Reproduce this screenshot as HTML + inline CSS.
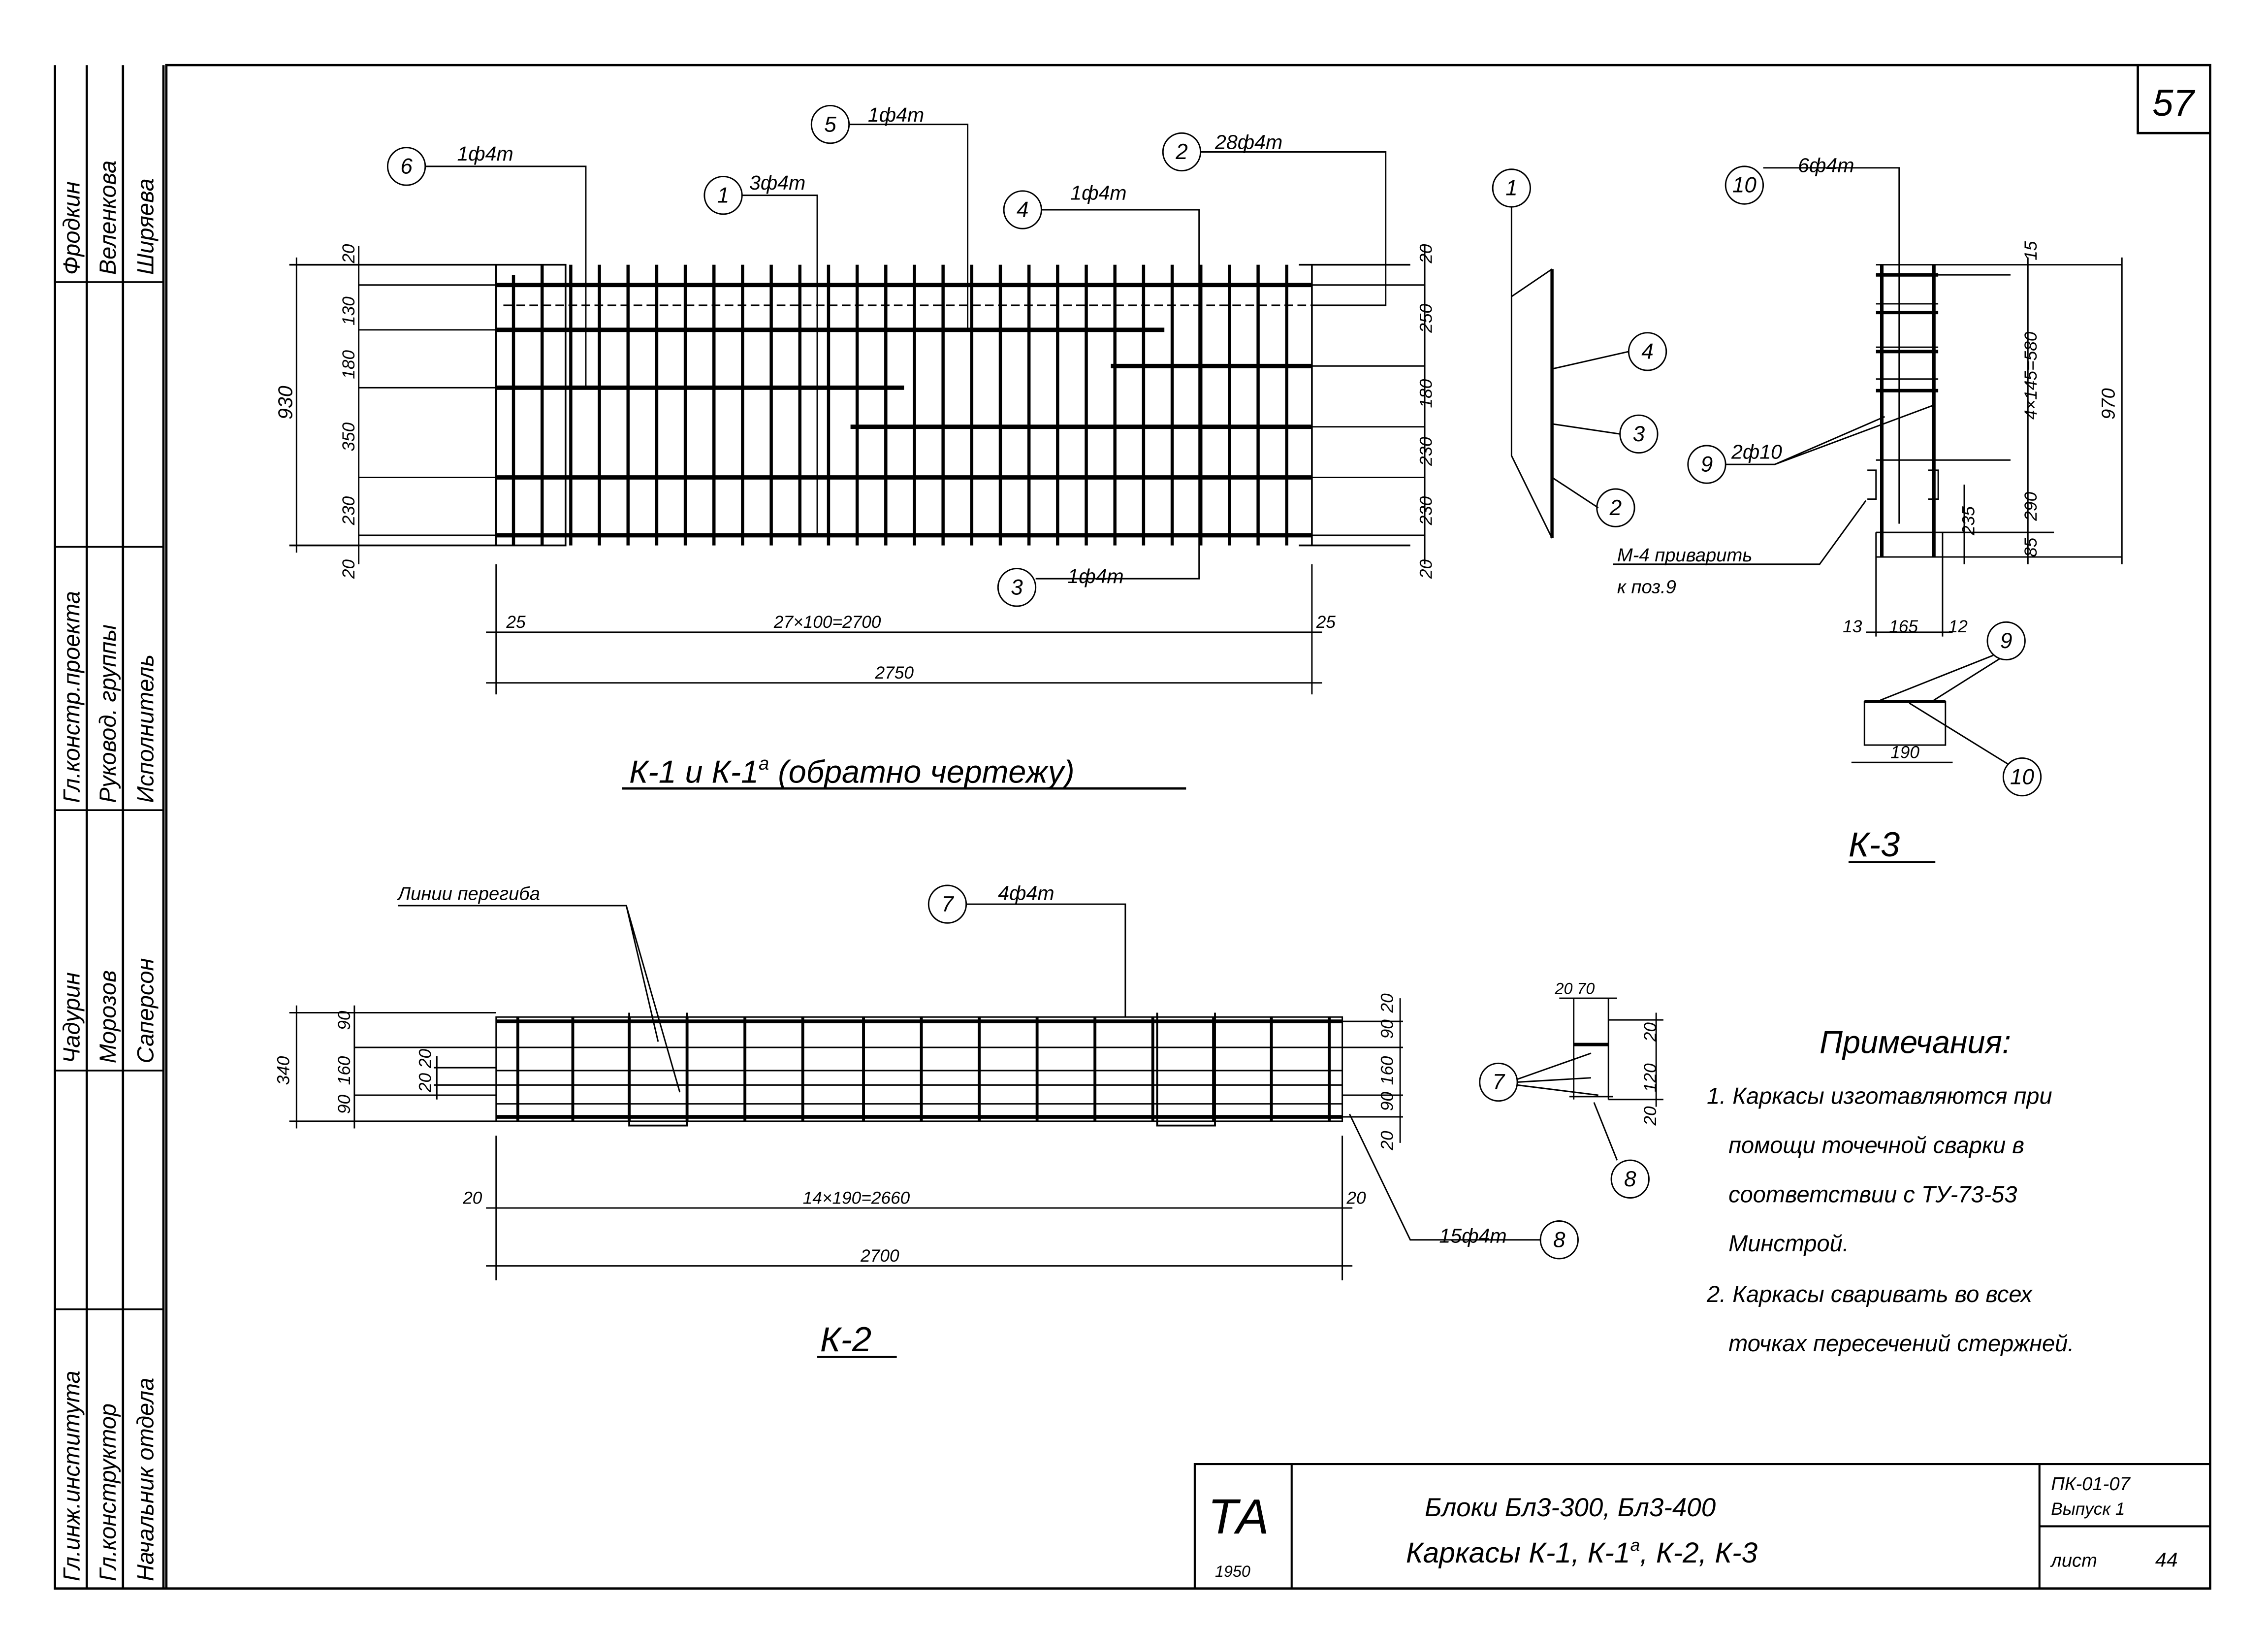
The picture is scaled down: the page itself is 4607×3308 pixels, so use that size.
<!DOCTYPE html>
<html><head><meta charset="utf-8"><style>
html,body{margin:0;padding:0;background:#fff}
svg{display:block}
text{font-family:"Liberation Sans",sans-serif;font-style:italic;fill:#000}
</style></head><body>
<svg width="4607" height="3308" viewBox="0 0 1568 1126" preserveAspectRatio="none" xmlns="http://www.w3.org/2000/svg">
<g fill="none" stroke="#000" stroke-width="1">
<!-- frame -->
<path d="M38 45V1098H1528V45H115V1098M60 45V1098M85 45V1098M113 45V1098" stroke-width="1.6"/>
<path d="M38 195H113M38 378H113M38 560H113M38 740H113M38 905H113" stroke-width="1.2"/>
<path d="M1478 45V92H1528" stroke-width="1.6"/>
<path d="M826 1098V1012H1528M893 1012V1098M1410 1012V1098M1410 1055H1528" stroke-width="1.4"/>

<!-- K-1 grid -->
<path d="M343 183H391V377H343V183M898 183H907V377H898M907 183H975M907 377H975M200 183H343M200 377H343" stroke-width="1.2"/>
<path d="M355 190V377M374.8 183V377M394.6 183V377M414.4 183V377M434.2 183V377M454 183V377M473.8 183V377M493.6 183V377M513.4 183V377M533.2 183V377M553 183V377M572.8 183V377M592.6 183V377M612.4 183V377M632.2 183V377M652 183V377M671.8 183V377M691.6 183V377M711.4 183V377M731.2 183V377M751 183V377M770.8 183V377M790.6 183V377M810.4 183V377M830.2 183V377M850 183V377M869.8 183V377M889.6 183V377" stroke-width="2.2"/>
<path d="M343 197H907M343 228H805M343 268H625M768 253H907M588 295H907M343 330H907M343 370H907" stroke-width="3"/>
<path d="M348 211H907" stroke-width="1" stroke-dasharray="6 3"/>
<path d="M248 197H343M248 228H343M248 268H343M248 330H343M248 370H343M907 197H985M907 253H985M907 295H985M907 330H985M907 370H985"/>
<path d="M205 178V382M248 170V390M985 170V390M343 390V480M907 390V480M336 437H914M336 472H914"/>
<!-- leaders K-1 -->
<path d="M294 115H405V268M513 135H565V370M587 86H669V228M720 145H829V400H716M830 105H958V211H907"/>
<circle cx="281" cy="115" r="13"/><circle cx="500" cy="135" r="13"/><circle cx="574" cy="86" r="13"/>
<circle cx="707" cy="145" r="13"/><circle cx="817" cy="105" r="13"/><circle cx="703" cy="406" r="13"/>
<path d="M430 545H820" stroke-width="1.6"/>

<!-- side view -->
<circle cx="1045" cy="130" r="13"/><circle cx="1139" cy="243" r="13"/><circle cx="1133" cy="300" r="13"/><circle cx="1117" cy="351" r="13"/>
<path d="M1045 143V205L1073 186M1045 205V315L1073 372M1126 243L1073 255M1120 300L1073 293M1105 351L1073 330"/>
<path d="M1073 186V372" stroke-width="2.2"/>

<!-- K-3 -->
<circle cx="1206" cy="128" r="13"/>
<path d="M1219 116H1313V362"/>
<path d="M1301 183V385M1337 183V385" stroke-width="2.4"/>
<path d="M1297 183H1467M1297 190H1390M1297 210H1340M1297 240H1340M1297 262H1340M1297 318H1390M1297 368H1420M1297 385H1467M1291 325H1297V345H1291M1333 325H1340V345H1333M1297 368V440M1343 368V440M1358 335V390M1402 178V390M1467 178V390M1290 437H1350"/>
<path d="M1297 190H1340M1297 216H1340M1297 243H1340M1297 270H1340" stroke-width="2.4"/>
<circle cx="1180" cy="321" r="13"/>
<path d="M1193 321H1227L1337 280M1227 321L1303 288M1115 390H1258L1290 346M1115 403"/>
<rect x="1289" y="485" width="56" height="30"/>
<path d="M1289 485H1345" stroke-width="2"/>
<path d="M1280 527H1350"/>
<circle cx="1387" cy="443" r="13"/><circle cx="1398" cy="537" r="13"/>
<path d="M1378 453L1300 484M1383 455L1337 484M1388 528L1320 486"/>
<path d="M1278 596H1338" stroke-width="1.4"/>

<!-- K-2 -->
<path d="M343 703H928V775H343ZM343 705V775M928 703V775M200 700H343M200 775H343M245 724H343M245 757H343M300 738H343M300 750H343M928 706H970M928 724H970M928 757H970M928 772H970M205 695V780M245 695V780M302 730V760M968 690V790" />
<path d="M358 703V775M396 703V775M435 703V775M475 703V775M515 703V775M555 703V775M597 703V775M637 703V775M677 703V775M717 703V775M757 703V775M797 703V775M839 703V775M879 703V775M919 703V775" stroke-width="2"/>
<path d="M343 706H928M343 772H928" stroke-width="2.6"/>
<path d="M343 724H928M343 740H928M343 750H928M343 763H928" stroke-width="1"/>
<path d="M435 700V778H475V700M800 700V778H840V700" stroke-width="1.3"/>
<path d="M343 785V885M928 785V885M336 835H935M336 875H935"/>
<path d="M275 626H433L455 720M433 626L470 755"/>
<circle cx="655" cy="625" r="13"/><path d="M668 625H778V703"/>
<circle cx="1078" cy="857" r="13"/><path d="M1065 857H975L933 770"/>
<path d="M565 938H620" stroke-width="1.4"/>
<!-- K-2 section -->
<path d="M1088 690V722H1112V690M1078 690H1118M1088 722V760M1112 722V760M1112 705H1150M1112 760H1150M1145 700V765M1085 758H1115" />
<path d="M1088 722H1112" stroke-width="2.4"/>
<circle cx="1036" cy="748" r="13"/><circle cx="1127" cy="815" r="13"/>
<path d="M1049 746L1100 728M1049 748L1100 745M1049 750L1105 757M1118 802L1102 762"/>
</g>

<g font-size="12">
<g transform="rotate(-90)" font-size="16">
<text x="-190" y="55">Фродкин</text>
<text x="-190" y="80">Веленкова</text>
<text x="-190" y="106">Ширяева</text>
<text x="-555" y="55">Гл.констр.проекта</text>
<text x="-555" y="80">Руковод. группы</text>
<text x="-555" y="106">Исполнитель</text>
<text x="-735" y="55">Чадурин</text>
<text x="-735" y="80">Морозов</text>
<text x="-735" y="106">Саперсон</text>
<text x="-1093" y="55">Гл.инж.института</text>
<text x="-1093" y="80">Гл.конструктор</text>
<text x="-1093" y="106">Начальник отдела</text>
</g>
<text x="1488" y="80" font-size="26">57</text>

<text x="316" y="111" font-size="14">1ф4т</text>
<text x="518" y="131" font-size="14">3ф4т</text>
<text x="600" y="84" font-size="14">1ф4т</text>
<text x="740" y="138" font-size="14">1ф4т</text>
<text x="840" y="103" font-size="14">28ф4т</text>
<text x="738" y="403" font-size="14">1ф4т</text>
<g font-size="15" text-anchor="middle">
<text x="281" y="120">6</text><text x="500" y="140">1</text><text x="574" y="91">5</text>
<text x="707" y="150">4</text><text x="817" y="110">2</text><text x="703" y="411">3</text>
<text x="1045" y="135">1</text><text x="1139" y="248">4</text><text x="1133" y="305">3</text><text x="1117" y="356">2</text>
<text x="1206" y="133">10</text><text x="1180" y="326">9</text><text x="1387" y="448">9</text><text x="1398" y="542">10</text>
<text x="655" y="630">7</text><text x="1078" y="862">8</text><text x="1036" y="753">7</text><text x="1127" y="820">8</text>
</g>
<g transform="rotate(-90)" font-size="12">
<text x="-182" y="245" >20</text><text x="-225" y="245">130</text><text x="-262" y="245">180</text>
<text x="-312" y="245">350</text><text x="-363" y="245">230</text><text x="-400" y="245">20</text>
<text x="-290" y="202" font-size="14">930</text>
<text x="-182" y="990">20</text><text x="-230" y="990">250</text><text x="-282" y="990">180</text>
<text x="-322" y="990">230</text><text x="-363" y="990">230</text><text x="-400" y="990">20</text>
<text x="-180" y="1408">15</text><text x="-290" y="1408">4×145=580</text><text x="-360" y="1408">290</text><text x="-385" y="1408">85</text>
<text x="-370" y="1365">235</text><text x="-290" y="1462" font-size="13">970</text>
<text x="-750" y="200">340</text><text x="-712" y="242">90</text><text x="-750" y="242">160</text><text x="-770" y="242">90</text>
<text x="-755" y="298">20 20</text>
<text x="-700" y="963">20</text><text x="-718" y="963">90</text><text x="-750" y="963">160</text><text x="-768" y="963">90</text><text x="-795" y="963">20</text>
<text x="-720" y="1145">20</text><text x="-755" y="1145">120</text><text x="-778" y="1145">20</text>
</g>
<text x="350" y="434">25</text><text x="535" y="434">27×100=2700</text><text x="910" y="434">25</text>
<text x="605" y="469">2750</text>
<text x="435" y="541" font-size="22">К-1 и К-1<tspan font-size="13" dy="-9">а</tspan><tspan dy="9"> (обратно чертежу)</tspan></text>

<text x="1243" y="119" font-size="14">6ф4т</text>
<text x="1197" y="317" font-size="14">2ф10</text>
<text x="1118" y="388" font-size="13">М-4 приварить</text>
<text x="1118" y="410" font-size="13">к поз.9</text>
<text x="1274" y="437">13</text><text x="1306" y="437">165</text><text x="1347" y="437">12</text>
<text x="1307" y="524">190</text>
<text x="1278" y="592" font-size="24">К-3</text>

<text x="275" y="622" font-size="13">Линии перегиба</text>
<text x="690" y="622" font-size="14">4ф4т</text>
<text x="995" y="859" font-size="14">15ф4т</text>
<text x="320" y="832">20</text><text x="555" y="832">14×190=2660</text><text x="931" y="832">20</text>
<text x="595" y="872">2700</text>
<text x="567" y="934" font-size="24">К-2</text>
<text x="1075" y="687" font-size="11">20 70</text>

<text x="1258" y="728" font-size="22">Примечания:</text>
<g font-size="16">
<text x="1180" y="763">1. Каркасы изготавляются при</text>
<text x="1195" y="797">помощи точечной сварки в</text>
<text x="1195" y="831">соответствии с ТУ-73-53</text>
<text x="1195" y="865">Минстрой.</text>
<text x="1180" y="900">2. Каркасы сваривать во всех</text>
<text x="1195" y="934">точках пересечений стержней.</text>
</g>

<text x="835" y="1060" font-size="34" font-style="normal" font-family="Liberation Serif">ТА</text>
<text x="840" y="1090" font-size="11">1950</text>
<text x="985" y="1048" font-size="18">Блоки Бл3-300, Бл3-400</text>
<text x="972" y="1080" font-size="20">Каркасы К-1, К-1<tspan font-size="12" dy="-8">а</tspan><tspan dy="8">, К-2, К-3</tspan></text>
<text x="1418" y="1030" font-size="13">ПК-01-07</text>
<text x="1418" y="1047" font-size="12">Выпуск 1</text>
<text x="1418" y="1083" font-size="13">лист</text>
<text x="1490" y="1083" font-size="14">44</text>
</g>
</svg>
</body></html>
